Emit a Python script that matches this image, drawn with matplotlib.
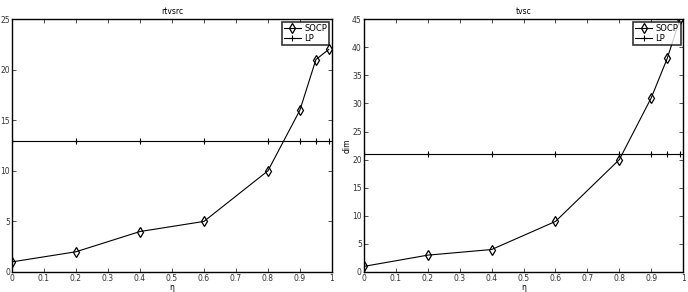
import matplotlib
matplotlib.use("Agg")
import matplotlib.pyplot as plt

eta = [0, 0.2, 0.4, 0.6, 0.8, 0.9, 0.95, 0.99]
left_socp = [1, 2, 4, 5, 10, 16, 21, 22]
left_lp = [13] * len(eta)
right_socp = [1, 3, 4, 9, 20, 31, 38, 45]
right_lp = [21] * len(eta)

plt.rcParams["font.size"] = 5.5
fig = plt.figure(figsize=(6.88, 2.92), dpi=100)
ax1 = fig.add_axes([0.0174, 0.0685, 0.465, 0.866])
ax2 = fig.add_axes([0.529, 0.0685, 0.464, 0.866])


def draw(ax, socp, lp, ymax, title, ylabel=None):
    ax.plot(eta, socp, color="black", lw=0.8, marker="d", ms=5,
            mfc="none", mec="black", mew=0.9, label="SOCP")
    ax.plot(eta, lp, color="black", lw=0.8, marker="+", ms=4,
            mew=0.8, label="LP")
    ax.set_xlim(0, 1)
    ax.set_ylim(0, ymax)
    ax.set_xticks([i / 10 for i in range(11)])
    ax.set_xticklabels(["0", "0.1", "0.2", "0.3", "0.4", "0.5", "0.6", "0.7", "0.8", "0.9", "1"])
    ax.tick_params(direction="in", top=True, right=True, length=3, width=0.6,
                   pad=1.5, colors="#333333", labelcolor="#333333")
    for s in ax.spines.values():
        s.set_linewidth(1.0)
    ax.set_title(title, fontsize=5.5, pad=4)
    ax.set_xlabel("η", labelpad=0)
    if ylabel:
        ax.set_ylabel(ylabel, labelpad=0)
    leg = ax.legend(loc="upper right", fancybox=False, borderpad=0.3,
                    handlelength=2, handletextpad=0.4, labelspacing=0.1,
                    borderaxespad=0.3, fontsize=6)
    leg.get_frame().set_edgecolor("black")
    leg.get_frame().set_linewidth(1.2)


draw(ax1, left_socp, left_lp, 25, "rtvsrc")
draw(ax2, right_socp, right_lp, 45, "tvsc", "dim")

fig.savefig("out.png", dpi=100)
